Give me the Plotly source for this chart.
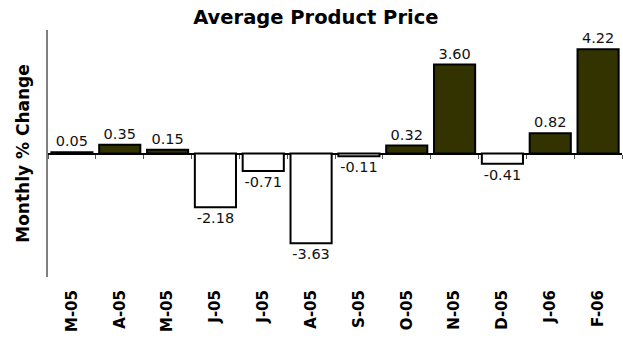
import plotly.graph_objects as go

categories = ["M-05", "A-05", "M-05", "J-05", "J-05", "A-05", "S-05", "O-05", "N-05", "D-05", "J-06", "F-06"]
values = [0.05, 0.35, 0.15, -2.18, -0.71, -3.63, -0.11, 0.32, 3.60, -0.41, 0.82, 4.22]

positions = list(range(len(categories)))
boundaries = [p - 0.5 for p in positions] + [positions[-1] + 0.5]
colors = ["#333300" if v >= 0 else "#ffffff" for v in values]

fig = go.Figure()
fig.add_trace(go.Bar(
    x=positions, y=values,
    marker=dict(color=colors, line=dict(color="#000000", width=2)),
    texttemplate="%{y:.2f}", textposition="outside",
    textfont=dict(family="DejaVu Sans", size=14.5, color="#111111"),
    cliponaxis=False, width=0.86,
))
fig.add_trace(go.Scatter(x=positions, y=[None] * len(positions), xaxis="x2",
                         showlegend=False, hoverinfo="skip"))

fig.update_layout(
    width=623, height=339,
    margin=dict(l=48, r=1, t=30, b=62),
    plot_bgcolor="white", paper_bgcolor="white",
    showlegend=False,
    title=dict(text="<b>Average Product Price</b>", x=0.507, xref="container",
               y=0.948, yref="container", xanchor="center", yanchor="middle",
               font=dict(family="DejaVu Sans", size=19.5, color="#000000")),
    xaxis=dict(range=[-0.5, len(categories) - 0.5], tickmode="array",
               tickvals=positions, ticktext=["<b>%s</b>" % c for c in categories],
               tickangle=-90, ticks="", showline=False, showgrid=False, zeroline=False,
               tickfont=dict(family="DejaVu Sans", size=15, color="#000000"),
               ticklabelstandoff=9),
    xaxis2=dict(overlaying="x", anchor="free", position=0.5,
                range=[-0.5, len(categories) - 0.5], tickmode="array",
                tickvals=boundaries, ticks="outside", ticklen=4, tickwidth=1,
                tickcolor="#555555", showticklabels=False, showline=False,
                showgrid=False, zeroline=False),
    yaxis=dict(range=[-5, 5], showticklabels=False, ticks="", showgrid=False,
               showline=True, linecolor="#808080", linewidth=2,
               zeroline=True, zerolinecolor="#000000", zerolinewidth=2,
               title=dict(text="<b>Monthly % Change</b>", standoff=12,
                          font=dict(family="DejaVu Sans", size=17, color="#000000"))),
)

fig.write_html("out.html")
